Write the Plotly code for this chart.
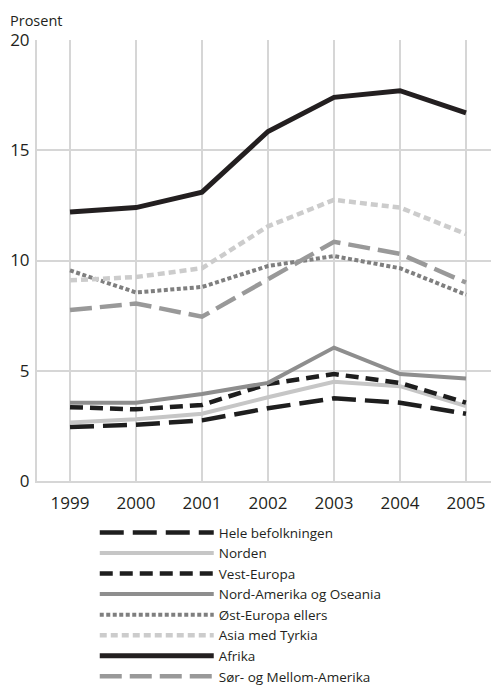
import plotly.graph_objects as go

years = [1999, 2000, 2001, 2002, 2003, 2004, 2005]

hele = [2.45, 2.55, 2.75, 3.3, 3.75, 3.55, 3.05]
norden = [2.65, 2.8, 3.05, 3.8, 4.5, 4.3, 3.4]
vest_europa = [3.35, 3.25, 3.45, 4.4, 4.85, 4.45, 3.55]
nord_amerika = [3.55, 3.55, 3.95, 4.45, 6.05, 4.85, 4.65]
ost_europa = [9.55, 8.55, 8.8, 9.75, 10.2, 9.65, 8.45]
asia = [9.1, 9.25, 9.65, 11.55, 12.75, 12.4, 11.2]
afrika = [12.2, 12.4, 13.1, 15.85, 17.4, 17.7, 16.7]
sor_amerika = [7.75, 8.05, 7.45, 9.15, 10.85, 10.3, 9.0]

series = [
    ("Hele befolkningen", hele, "#1e1e1e", "24px,9px", 4.5),
    ("Norden", norden, "#c6c6c6", "solid", 4),
    ("Vest-Europa", vest_europa, "#1e1e1e", "13px,7px", 4.5),
    ("Nord-Amerika og Oseania", nord_amerika, "#8e8e8e", "solid", 4),
    ("Øst-Europa ellers", ost_europa, "#7f7f7f", "4px,2.5px", 4),
    ("Asia med Tyrkia", asia, "#cccccc", "7px,4px", 4.5),
    ("Afrika", afrika, "#231f20", "solid", 5),
    ("Sør- og Mellom-Amerika", sor_amerika, "#999999", "22px,8px", 4.5),
]

fig = go.Figure()
for name, vals, color, dash, width in series:
    fig.add_trace(go.Scatter(
        x=years, y=vals, mode="lines", name=name,
        line=dict(color=color, dash=dash, width=width),
    ))

# page body has an 8px margin, so the figure is a bit smaller than the window
fig.update_layout(
    width=491, height=677,
    margin=dict(l=29, r=0, t=32, b=204, autoexpand=False),
    plot_bgcolor="white", paper_bgcolor="white",
    font=dict(family="Open Sans", size=17, color="#231f20"),
    showlegend=True,
    legend=dict(
        x=0.125, y=-0.082, xanchor="left", yanchor="top",
        itemwidth=114, tracegroupgap=0,
        font=dict(size=13.5),
        bgcolor="rgba(0,0,0,0)",
    ),
    annotations=[dict(
        text="Prosent", xref="paper", yref="paper", x=-0.063, y=1.019,
        xanchor="left", yanchor="bottom", showarrow=False,
        font=dict(size=14.5),
    )],
)
fig.update_xaxes(
    range=[1998.5, 2005.5], tickvals=years,
    showgrid=True, gridcolor="#d6d6d6", gridwidth=2,
    showline=True, linecolor="#d6d6d6", linewidth=2,
    zeroline=False, ticks="", ticklabelstandoff=6,
)
fig.update_yaxes(
    range=[0, 20], tickvals=[0, 5, 10, 15, 20],
    showgrid=True, gridcolor="#d6d6d6", gridwidth=2,
    showline=True, linecolor="#d6d6d6", linewidth=2,
    zeroline=False, ticks="", ticklabelstandoff=2,
)

fig.write_html("out.html")
